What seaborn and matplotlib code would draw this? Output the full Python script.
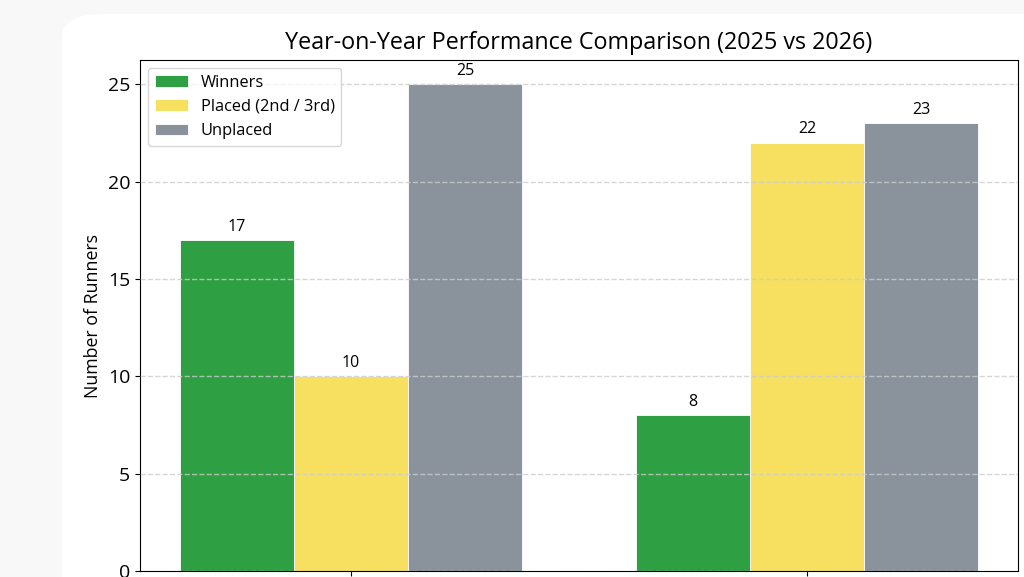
import seaborn as sns
import matplotlib.pyplot as plt
import pandas as pd
from matplotlib.patches import FancyBboxPatch

# Data
years = ['2025', '2026']
categories = ['Winners', 'Placed (2nd / 3rd)', 'Unplaced']
winners = [17, 8]
placed = [10, 22]
unplaced = [25, 23]
colors = ['#2e9f42', '#f7df5f', '#8a939c']

rows = []
for i, y in enumerate(years):
    rows.append({'year': y, 'category': categories[0], 'runners': winners[i]})
    rows.append({'year': y, 'category': categories[1], 'runners': placed[i]})
    rows.append({'year': y, 'category': categories[2], 'runners': unplaced[i]})
df = pd.DataFrame(rows)

plt.rcParams['font.family'] = ['Open Sans', 'DejaVu Sans']

fig = plt.figure(figsize=(10.24, 5.77), dpi=100, facecolor='#f8f8f8')
# white card behind the chart
card = FancyBboxPatch((62/1024, -0.1), 1.2, 1 - 14/577 + 0.1,
                      boxstyle='round,pad=0,rounding_size=0.04',
                      transform=fig.transFigure, facecolor='white',
                      edgecolor='none', zorder=-10)
fig.patches.append(card)

ax = fig.add_axes([140/1024, 6/577, 878/1024, 511/577])
sns.barplot(data=df, x='year', y='runners', hue='category',
            palette=dict(zip(categories, colors)), width=0.75,
            edgecolor='white', linewidth=0.6, saturation=1, ax=ax)

for c in ax.containers:
    ax.bar_label(c, padding=4, fontsize=11.5)

ax.set_xlim(-0.4625, 1.4625)
ax.set_ylim(0, 26.25)
ax.set_yticks([0, 5, 10, 15, 20, 25])
ax.tick_params(axis='y', labelsize=14)
ax.tick_params(axis='x', labelsize=14)
ax.grid(axis='y', linestyle='--', color='#cccccc', linewidth=1, alpha=0.8)
ax.set_axisbelow(False)
ax.set_xlabel('')
ax.set_ylabel('Number of Runners', fontsize=12.8)
ax.set_title('Year-on-Year Performance Comparison (2025 vs 2026)', fontsize=16.8, pad=8)
ax.legend(loc='upper left', fontsize=11.8, title=None)

fig.savefig('out.png', dpi=100, facecolor=fig.get_facecolor())
